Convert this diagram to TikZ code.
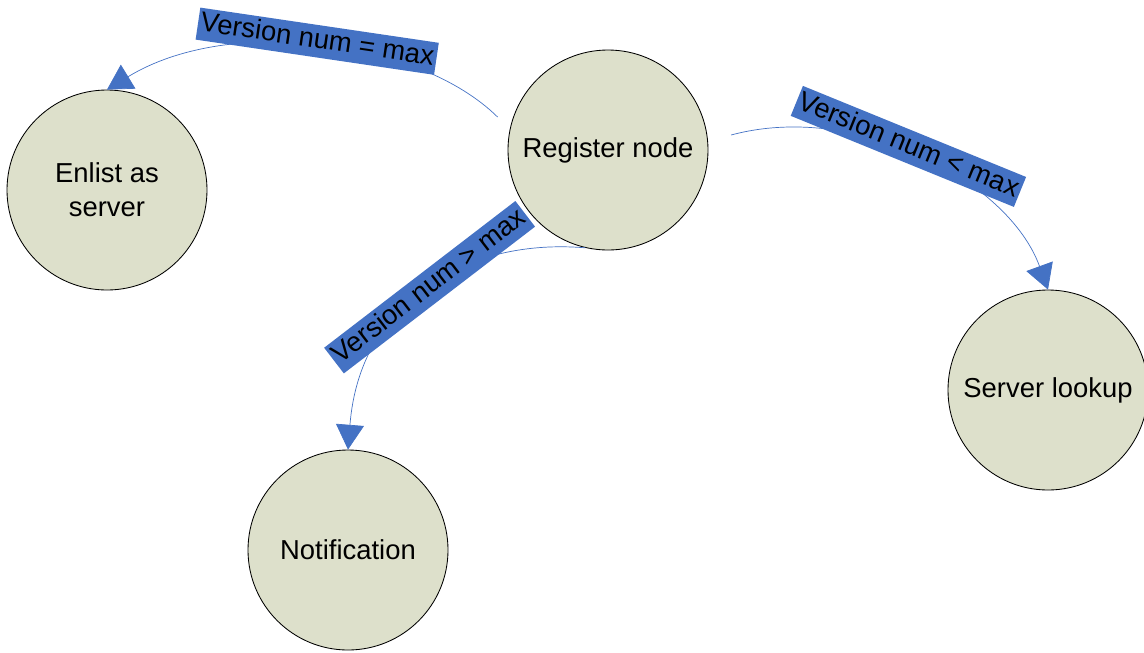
\documentclass[tikz,border=0pt]{standalone}
\usepackage{fontspec}
\setmainfont{Liberation Sans}
\usetikzlibrary{arrows.meta}
\definecolor{statefill}{RGB}{221,224,203}
\definecolor{condblue}{RGB}{68,114,196}
\begin{document}
\begin{tikzpicture}[
	state/.style={circle, draw=black, line width=0.6pt, fill=statefill, minimum size=5cm, inner sep=0pt, align=center, font=\fontsize{19.5}{24.2}\selectfont},
	cond/.style={fill=condblue, inner xsep=2pt, inner ysep=2.5pt, text height=14pt, text depth=4pt, font=\fontsize{19.5}{24.2}\selectfont},
	flow/.style={draw=condblue, line width=0.5pt, -{Triangle[length=0.62cm,width=0.7cm]}}
]
	\useasboundingbox (0,0) rectangle (28.6,-16.3);
	\node[state] (enl) at (2.675,-4.75) {Enlist as\\server};
	\node[state] (reg) at (15.2,-3.75) {Register node};
	\node[state] (note) at (8.7,-13.75) {Notification};
	\node[state] (look) at (26.2,-9.75) {Server lookup};
	\draw[flow, shorten <=0.43cm] (reg.168) .. controls +(-2.25,2.23) and +(3.08,1.88) .. (enl.north);
	\draw[flow, shorten <=0.6cm] (reg.5) .. controls +(3.7,1.0) and +(-1.0,2.75) .. (look.north);
	\draw[flow] (reg.-103) .. controls +(-2.875,0.25) and +(0.3,3.8) .. (note.north);
	\node[cond, rotate=-8.4] (eq) at (7.93,-1.03) {Version num = max};
	\node[cond, rotate=-22.2] (lt) at (22.71,-3.66) {Version num < max};
	\node[cond, rotate=37.5] (gt) at (10.74,-7.18) {Version num > max};
\end{tikzpicture}
\end{document}
